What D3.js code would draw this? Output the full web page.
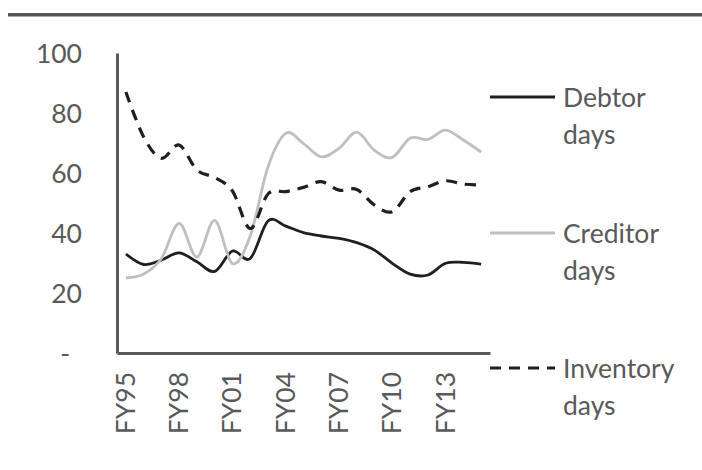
<!DOCTYPE html>
<html>
<head>
<meta charset="utf-8">
<script src="https://cdn.jsdelivr.net/npm/d3@7"></script>
<style>
  html, body { margin: 0; padding: 0; background: #fff; }
  svg { display: block; }
</style>
</head>
<body>
<svg id="chart" width="702" height="470"></svg>
<script>
const categories = ["FY95","FY96","FY97","FY98","FY99","FY00","FY01","FY02","FY03","FY04","FY05","FY06","FY07","FY08","FY09","FY10","FY11","FY12","FY13","FY14","FY15"];
const debtorDays = [33, 29.5, 31, 33.4, 30.4, 27.2, 34, 31.5, 44, 42.3, 40.1, 39, 38.2, 36.8, 34.3, 29.9, 26.3, 26, 29.9, 30.2, 29.6];
const creditorDays = [25, 26.3, 31.5, 43.2, 32, 44.2, 29.8, 39, 62, 73.2, 69.8, 65.4, 68.2, 73.6, 67.5, 65.2, 71.6, 71.2, 74.3, 71, 67];
const inventoryDays = [87, 72, 64.9, 69.3, 61, 58.5, 54, 41.5, 53, 53.8, 55.2, 57.1, 54.3, 54.5, 49.3, 47.1, 53.8, 55.4, 57.4, 56.3, 56];
const yTicks = [0, 20, 40, 60, 80, 100];
const xTickLabels = ["FY95","FY98","FY01","FY04","FY07","FY10","FY13"];
const seriesNames = [["Debtor","days"],["Creditor","days"],["Inventory","days"]];

const svg = d3.select("#chart");
const FONT = "Lato, 'Open Sans', sans-serif";
const TEXT = "#595959";

// top rule
svg.append("rect").attr("x", 8).attr("y", 13).attr("width", 694).attr("height", 3.5).attr("fill", "#555");

const x = d3.scaleBand().domain(categories).range([117, 490]);
const y = d3.scaleLinear().domain([0, 100]).range([353, 53]);

// y axis
const yAxis = svg.append("g").attr("transform", "translate(117,0)")
  .call(d3.axisLeft(y).tickValues(yTicks).tickSizeInner(0).tickSizeOuter(0).tickPadding(35)
    .tickFormat(d => d === 0 ? "-" : d));
yAxis.select(".domain").attr("stroke", "#595959").attr("stroke-width", 3);
yAxis.selectAll("text").attr("font-family", FONT).attr("font-size", 26.5).attr("fill", TEXT)
  .attr("dy", "0.34em");
yAxis.selectAll(".tick").filter(d => d === 0).select("text").attr("dx", -12);

// x axis
const xAxis = svg.append("g").attr("transform", "translate(0,353)")
  .call(d3.axisBottom(x).tickValues(xTickLabels).tickSizeInner(0).tickSizeOuter(0));
xAxis.select(".domain").attr("stroke", "#595959").attr("stroke-width", 3);
xAxis.selectAll("text").attr("font-family", FONT).attr("font-size", 26.5).attr("fill", TEXT)
  .attr("text-anchor", "end").attr("x", 0).attr("y", 0).attr("dy", 0)
  .attr("transform", "translate(9,19) rotate(-90)");

const line = d3.line()
  .x((d, i) => x(categories[i]) + x.bandwidth() / 2)
  .y(d => y(d))
  .curve(d3.curveCardinal.tension(0));

const styles = [
  { data: debtorDays, stroke: "#1f1f1f", width: 2.8, dash: null },
  { data: creditorDays, stroke: "#bfbfbf", width: 2.8, dash: null },
  { data: inventoryDays, stroke: "#1f1f1f", width: 3.2, dash: "11,8" }
];

styles.forEach(s => {
  svg.append("path").datum(s.data).attr("d", line)
    .attr("fill", "none").attr("stroke", s.stroke).attr("stroke-width", s.width)
    .attr("stroke-dasharray", s.dash);
});

// legend
const legendY = [97, 233, 368];
styles.forEach((s, i) => {
  const g = svg.append("g");
  g.append("line").attr("x1", 490).attr("x2", 555).attr("y1", legendY[i]).attr("y2", legendY[i])
    .attr("stroke", s.stroke).attr("stroke-width", s.width).attr("stroke-dasharray", s.dash);
  seriesNames[i].forEach((t, j) => {
    g.append("text").attr("x", 563).attr("y", legendY[i] + 9.5 + j * 37)
      .attr("font-family", FONT).attr("font-size", 26.5).attr("fill", TEXT).text(t);
  });
});
</script>
</body>
</html>
